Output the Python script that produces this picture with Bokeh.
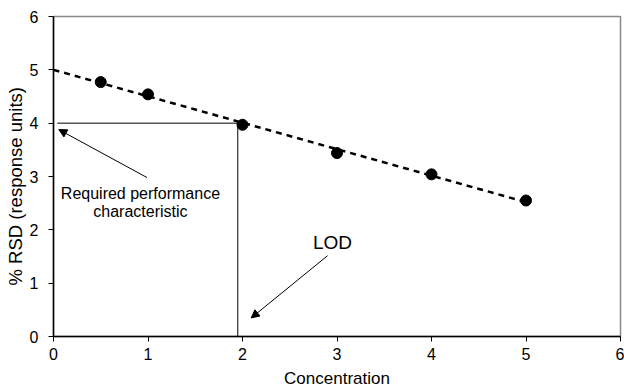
import numpy as np
from bokeh.plotting import figure
from bokeh.models import Arrow, NormalHead, Label, FixedTicker, ColumnDataSource, Title
from bokeh.embed import file_html
from bokeh.resources import INLINE

# Data
conc = [0.5, 1, 2, 3, 4, 5]
rsd = [4.77, 4.54, 3.97, 3.44, 3.04, 2.55]
trend_x = [0, 5]
trend_y = [5.0, 2.52]
ticks = [0, 1, 2, 3, 4, 5, 6]
required_rsd = 4.0
lod_conc = 1.95

FONT = "Liberation Sans"

p = figure(width=624, height=390, x_range=(0, 6), y_range=(0, 6),
           output_backend="svg", toolbar_location=None,
           min_border_left=53, min_border_right=4, min_border_top=16, min_border_bottom=52)
p.background_fill_color = "white"
p.border_fill_color = "white"
p.outline_line_color = "#888888"
p.outline_line_width = 1.5
p.xgrid.visible = False
p.ygrid.visible = False

for ax in (p.xaxis[0], p.yaxis[0]):
    ax.ticker = FixedTicker(ticks=ticks)
    ax.axis_line_color = "black"
    ax.axis_line_width = 1.5
    ax.major_tick_in = 0
    ax.major_tick_out = 5
    ax.major_tick_line_color = "black"
    ax.major_tick_line_width = 1
    ax.minor_tick_line_color = None
    ax.major_label_text_font = FONT
    ax.major_label_text_font_size = "16px"
    ax.major_label_text_color = "black"
    ax.axis_label_text_font = FONT
    ax.axis_label_text_font_style = "normal"
    ax.axis_label_text_color = "black"

p.xaxis.axis_label = "Concentration"
p.xaxis.axis_label_text_font_size = "17px"
p.xaxis.major_label_standoff = 6
p.xaxis.axis_label_standoff = 6
p.yaxis.major_label_standoff = 10

# y-axis title as a left-side title, shifted to where the reference has it
p.add_layout(Title(text="% RSD (response units)", align="left", offset=51,
                   vertical_align="middle", standoff=0,
                   text_font=FONT, text_font_size="18.5px", text_font_style="normal",
                   text_color="black"), "left")

# required performance lines
p.line([0.04, lod_conc], [required_rsd, required_rsd], line_color="black", line_width=1)
p.line([lod_conc, lod_conc], [required_rsd, 0], line_color="black", line_width=1)

# trend line
p.line(trend_x, trend_y, line_color="black", line_width=2.5, line_dash="6 5")

# points
src = ColumnDataSource(dict(x=conc, y=rsd))
p.scatter("x", "y", source=src, size=11, fill_color="black", line_color="black")

# arrows
p.add_layout(Arrow(end=NormalHead(size=8, fill_color="black", line_color="black", line_width=1),
                   x_start=0.99, y_start=2.98, x_end=0.056, y_end=3.88,
                   line_color="black", line_width=1))
p.add_layout(Arrow(end=NormalHead(size=8, fill_color="black", line_color="black", line_width=1),
                   x_start=2.90, y_start=1.515, x_end=2.092, y_end=0.348,
                   line_color="black", line_width=1))

# annotation labels
for txt, yy in (("Required performance", 2.68), ("characteristic", 2.34)):
    p.add_layout(Label(x=0.92, y=yy, text=txt, text_align="center", text_baseline="middle",
                       text_font=FONT, text_font_size="16px", text_color="black"))
p.add_layout(Label(x=2.952, y=1.764, text="LOD", text_align="center", text_baseline="middle",
                   text_font=FONT, text_font_size="19px", text_color="black"))

open("out.html", "w").write(file_html(p, INLINE))
